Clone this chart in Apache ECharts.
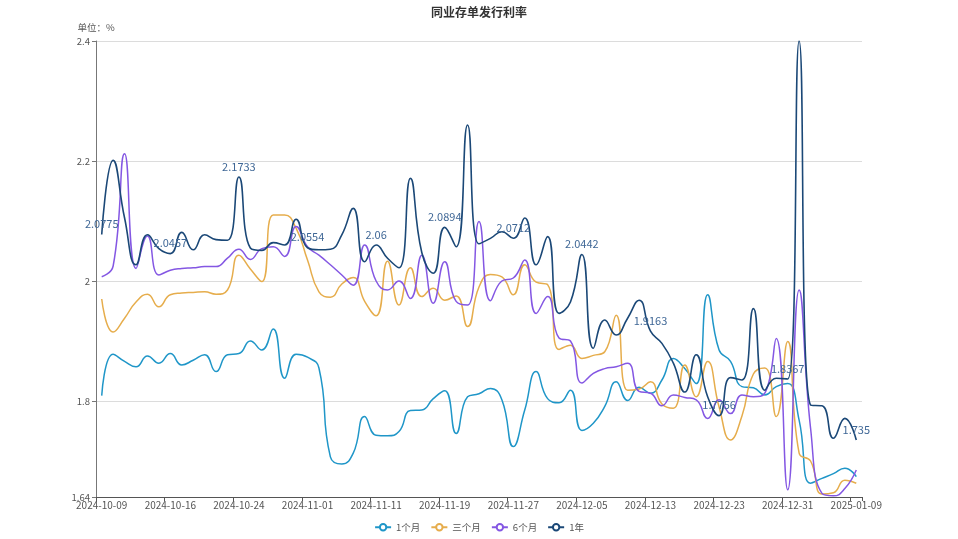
<!DOCTYPE html>
<html>
<head>
<meta charset="utf-8">
<script src="https://cdn.jsdelivr.net/npm/echarts@6/dist/echarts.min.js"></script>
<style>
html,body{margin:0;padding:0;background:#fff;}
#chart{width:958px;height:539px;}
</style>
</head>
<body>
<div id="chart"></div>
<script>
const categories = [
'2024-10-09','2024-10-10','2024-10-11','2024-10-12','2024-10-14','2024-10-15','2024-10-16','2024-10-17','2024-10-18',
'2024-10-21','2024-10-22','2024-10-23','2024-10-24','2024-10-25','2024-10-28','2024-10-29','2024-10-30','2024-10-31',
'2024-11-01','2024-11-04','2024-11-05','2024-11-06','2024-11-07','2024-11-08','2024-11-11','2024-11-12','2024-11-13',
'2024-11-14','2024-11-15','2024-11-18','2024-11-19','2024-11-20','2024-11-21','2024-11-22','2024-11-25','2024-11-26',
'2024-11-27','2024-11-28','2024-11-29','2024-12-02','2024-12-03','2024-12-04','2024-12-05','2024-12-06','2024-12-09',
'2024-12-10','2024-12-11','2024-12-12','2024-12-13','2024-12-16','2024-12-17','2024-12-18','2024-12-19','2024-12-20',
'2024-12-23','2024-12-24','2024-12-25','2024-12-26','2024-12-27','2024-12-30','2024-12-31','2025-01-02','2025-01-03',
'2025-01-06','2025-01-07','2025-01-08','2025-01-09'
];

const seriesNames = ['1个月', '三个月', '6个月', '1年'];

const rate1M = [
1.809,1.878,1.866,1.857,1.875,1.863,1.879,1.860,1.868,1.877,1.849,1.877,1.879,1.900,1.885,1.920,1.838,1.878,
1.873,1.855,1.707,1.695,1.713,1.774,1.743,1.742,1.749,1.784,1.785,1.804,1.817,1.746,1.807,1.812,1.821,1.802,
1.724,1.785,1.849,1.804,1.797,1.818,1.751,1.763,1.791,1.832,1.801,1.823,1.813,1.835,1.871,1.854,1.829,1.977,
1.885,1.866,1.824,1.822,1.810,1.824,1.829,1.768,1.663,1.671,1.679,1.688,1.674
];

const rate3M = [
1.970,1.915,1.938,1.965,1.978,1.957,1.977,1.980,1.981,1.982,1.978,1.985,2.043,2.020,1.999,2.110,2.110,2.088,
2.035,1.982,1.973,1.995,2.006,1.966,1.942,2.033,1.960,2.022,1.974,1.988,1.968,1.975,1.924,1.990,2.011,2.007,
1.977,2.027,1.998,1.994,1.886,1.893,1.871,1.876,1.882,1.943,1.818,1.820,1.832,1.795,1.788,1.860,1.807,1.866,
1.790,1.735,1.775,1.845,1.855,1.774,1.899,1.713,1.700,1.645,1.647,1.668,1.663
];

const rate6M = [
2.007,2.025,2.212,2.021,2.075,2.010,2.018,2.021,2.022,2.024,2.024,2.038,2.053,2.036,2.054,2.057,2.041,2.091,
2.057,2.043,2.027,2.010,1.993,2.060,2.000,1.985,2.000,1.971,2.043,1.963,2.032,1.966,1.960,2.099,1.967,2.000,
2.005,2.035,1.946,1.974,1.905,1.900,1.830,1.846,1.854,1.857,1.863,1.816,1.813,1.792,1.810,1.806,1.802,1.771,
1.802,1.779,1.810,1.807,1.813,1.904,1.652,1.985,1.755,1.646,1.642,1.654,1.685
];

const rate1Y = [
2.0775,2.201,2.105,2.027,2.077,2.054,2.0457,2.081,2.052,2.077,2.069,2.068,2.1733,2.055,2.051,2.064,2.060,2.103,
2.0554,2.052,2.053,2.077,2.121,2.032,2.06,2.038,2.022,2.171,2.047,2.013,2.0894,2.057,2.260,2.062,2.071,2.082,
2.0712,2.105,2.027,2.074,1.946,1.965,2.0442,1.888,1.935,1.910,1.938,1.968,1.9163,1.896,1.863,1.815,1.877,1.807,
1.7756,1.839,1.835,1.954,1.818,1.838,1.8367,2.400,1.793,1.792,1.738,1.771,1.735
];

const colors = ['#1f96c8', '#e6ad4c', '#8457e3', '#1b4877'];
const FONT = "'Noto Sans CJK SC', 'Noto Sans', sans-serif";

function lineSeries(name, data, color, width) {
  return {
    name: name,
    type: 'line',
    data: data,
    smooth: true,
    showSymbol: false,
    symbol: 'emptyCircle',
    lineStyle: { width: width, color: color },
    itemStyle: { color: color, borderWidth: 1 }
  };
}

const s1y = lineSeries(seriesNames[3], rate1Y, colors[3], 1.6);
s1y.showSymbol = true;
s1y.showAllSymbol = true;
s1y.symbolSize = 0.01;
s1y.label = {
  show: true,
  position: 'top',
  distance: 4,
  fontSize: 11,
  fontFamily: FONT,
  color: '#3f6796',
  formatter: function (p) { return p.dataIndex % 6 === 0 ? String(p.value) : ''; }
};

const chart = echarts.init(document.getElementById('chart'), null, { renderer: 'canvas' });
chart.setOption({
  animation: false,
  color: colors,
  textStyle: { fontFamily: FONT },
  title: {
    text: '同业存单发行利率',
    left: 'center',
    top: 1,
    textStyle: { fontSize: 12, fontWeight: 'bold', color: '#333', fontFamily: FONT }
  },
  legend: {
    data: seriesNames,
    bottom: 2,
    left: 'center',
    itemWidth: 16,
    itemHeight: 8,
    itemGap: 10,
    itemStyle: { borderWidth: 1 },
    textStyle: { fontSize: 9.5, color: '#555', fontFamily: FONT }
  },
  grid: { left: 96, right: 96, top: 41, bottom: 42, containLabel: false },
  xAxis: {
    type: 'category',
    data: categories,
    boundaryGap: true,
    axisLine: { lineStyle: { color: '#555' } },
    axisTick: { show: true, length: 4, lineStyle: { color: '#555' } },
    axisLabel: { interval: 5, fontSize: 10, color: '#555', margin: 3, fontFamily: FONT },
    splitLine: { show: false }
  },
  yAxis: {
    type: 'value',
    min: 1.64,
    max: 2.4,
    name: '单位：%',
    nameLocation: 'end',
    nameGap: 9,
    nameTextStyle: { fontSize: 9.5, color: '#555', fontFamily: FONT },
    axisLine: { show: true, lineStyle: { color: '#777' } },
    axisTick: { show: true, length: 4, lineStyle: { color: '#777' } },
    axisLabel: { fontSize: 9.5, color: '#555', margin: 6, fontFamily: FONT },
    splitLine: { show: true, lineStyle: { color: '#dcdcdc' } }
  },
  series: [
    lineSeries(seriesNames[0], rate1M, colors[0], 1.5),
    lineSeries(seriesNames[1], rate3M, colors[1], 1.5),
    lineSeries(seriesNames[2], rate6M, colors[2], 1.5),
    s1y
  ]
});
</script>
</body>
</html>
